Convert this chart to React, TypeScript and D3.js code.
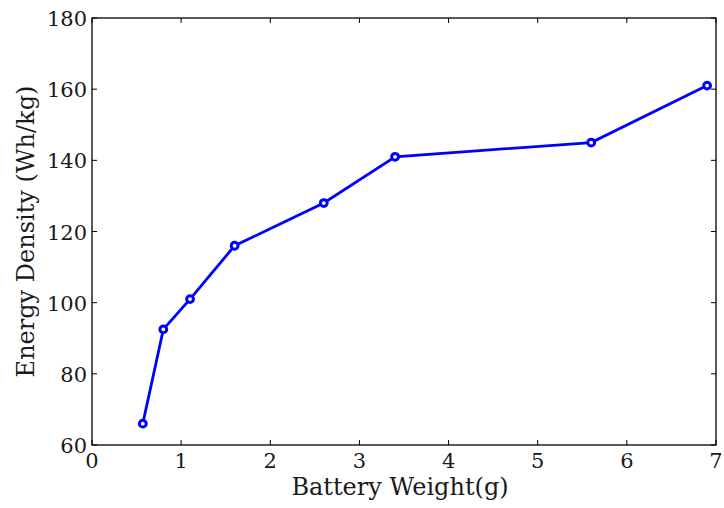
import * as d3 from "d3";

const weights = [0.57, 0.8, 1.1, 1.6, 2.6, 3.4, 5.6, 6.9];
const densities = [66, 92.5, 101, 116, 128, 141, 145, 161];
const xTicks = [0, 1, 2, 3, 4, 5, 6, 7];
const yTicks = [60, 80, 100, 120, 140, 160, 180];

const W = 724;
const H = 508;
const left = 92;
const right = 716;
const top = 18;
const bottom = 445;
const font = "DejaVu Serif";

export default function App() {
  const x = d3.scaleLinear().domain([0, 7]).range([left, right]);
  const y = d3.scaleLinear().domain([60, 180]).range([bottom, top]);

  const pts = weights.map((w, i) => [w, densities[i]] as [number, number]);
  const line = d3
    .line<[number, number]>()
    .x((d) => x(d[0]))
    .y((d) => y(d[1]));

  return (
    <div style={{ position: "absolute", left: 0, top: 0 }}>
      <svg width={W} height={H} style={{ display: "block", background: "#fff" }}>
        {/* ticks, inward on all four sides */}
        {xTicks.map((t) => (
          <g key={"x" + t}>
            <line x1={x(t)} x2={x(t)} y1={bottom} y2={bottom - 5} stroke="#000" />
            <line x1={x(t)} x2={x(t)} y1={top} y2={top + 5} stroke="#000" />
            <text
              x={x(t)}
              y={468}
              textAnchor="middle"
              fontFamily={font}
              fontSize={21}
              fill="#1a1a1a"
            >
              {t}
            </text>
          </g>
        ))}
        {yTicks.map((t) => (
          <g key={"y" + t}>
            <line x1={left} x2={left + 5} y1={y(t)} y2={y(t)} stroke="#000" />
            <line x1={right} x2={right - 5} y1={y(t)} y2={y(t)} stroke="#000" />
            <text
              x={left - 5}
              y={y(t) + 8}
              textAnchor="end"
              fontFamily={font}
              fontSize={21}
              fill="#1a1a1a"
            >
              {t}
            </text>
          </g>
        ))}

        <path d={line(pts) ?? ""} fill="none" stroke="#0000ff" strokeWidth={2.8} />
        {pts.map((p, i) => (
          <circle
            key={i}
            cx={x(p[0])}
            cy={y(p[1])}
            r={3.4}
            fill="#fff"
            stroke="#0000ff"
            strokeWidth={3}
          />
        ))}

        <rect
          x={left}
          y={top}
          width={right - left}
          height={bottom - top}
          fill="none"
          stroke="#000"
          strokeWidth={1.3}
        />

        <text
          x={400}
          y={495}
          textAnchor="middle"
          fontFamily={font}
          fontSize={24}
          fill="#1a1a1a"
        >
          Battery Weight(g)
        </text>
        <text
          transform={`translate(34,${(top + bottom) / 2}) rotate(-90)`}
          textAnchor="middle"
          fontFamily={font}
          fontSize={24}
          fill="#1a1a1a"
        >
          Energy Density (Wh/kg)
        </text>
      </svg>
    </div>
  );
}
